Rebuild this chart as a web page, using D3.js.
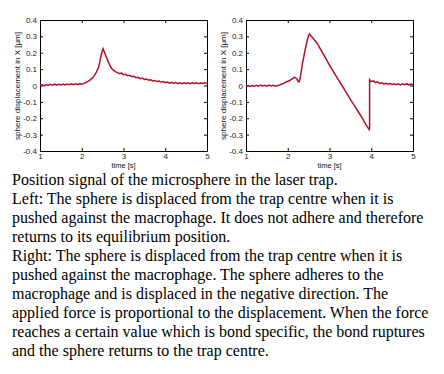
<!DOCTYPE html>
<html>
<head>
<meta charset="utf-8">
<script src="https://cdn.jsdelivr.net/npm/d3@7"></script>
<style>
  body { margin: 0; background: #fff; }
  .tick text { font-family: "Liberation Sans", Arial, sans-serif; }
</style>
</head>
<body>
<div id="chart"></div>
<script>
// ---- data ----
const yTicks = [0.4, 0.3, 0.2, 0.1, 0, -0.1, -0.2, -0.3, -0.4];
const xTicks = [1, 2, 3, 4, 5];

// left panel: sphere does not adhere
const leftTime = [1.0, 1.05, 1.1, 1.15, 1.2, 1.25, 1.3, 1.35, 1.4, 1.45, 1.5, 1.55, 1.6, 1.65, 1.7, 1.75, 1.8, 1.85, 1.9, 1.95,
  2.0, 2.05, 2.1, 2.15, 2.2, 2.25, 2.3, 2.35, 2.4, 2.43, 2.46, 2.49, 2.51, 2.54, 2.58, 2.62, 2.66, 2.7, 2.75, 2.8, 2.85,
  2.9, 2.95, 3.0, 3.05, 3.1, 3.15, 3.2, 3.25, 3.3, 3.35, 3.4, 3.45, 3.5, 3.55, 3.6, 3.65, 3.7, 3.75, 3.8, 3.85, 3.9, 3.95,
  4.0, 4.05, 4.1, 4.15, 4.2, 4.25, 4.3, 4.35, 4.4, 4.45, 4.5, 4.55, 4.6, 4.65, 4.7, 4.75, 4.8, 4.85, 4.9, 4.95, 5.0];
const leftDisp = [0.0, 0.005, -0.002, 0.006, 0.001, 0.007, 0.002, 0.008, 0.003, 0.008, 0.004, 0.009, 0.004, 0.009, 0.005, 0.01, 0.005, 0.01, 0.006, 0.011,
  0.009, 0.013, 0.018, 0.025, 0.034, 0.045, 0.06, 0.082, 0.11, 0.14, 0.18, 0.21, 0.225, 0.205, 0.18, 0.155, 0.13, 0.11, 0.095, 0.085, 0.08,
  0.072, 0.076, 0.066, 0.068, 0.06, 0.062, 0.054, 0.056, 0.048, 0.05, 0.042, 0.045, 0.037, 0.04, 0.032, 0.035, 0.028, 0.031, 0.024, 0.027, 0.021, 0.024,
  0.017, 0.021, 0.014, 0.019, 0.013, 0.018, 0.012, 0.017, 0.011, 0.017, 0.012, 0.016, 0.011, 0.017, 0.012, 0.016, 0.011, 0.017, 0.012, 0.016, 0.013];

// right panel: sphere adheres, bond ruptures near 3.95 s
const rightTime = [1.0, 1.05, 1.1, 1.15, 1.2, 1.25, 1.3, 1.35, 1.4, 1.45, 1.5, 1.55, 1.6, 1.65, 1.7, 1.75, 1.8, 1.85, 1.9, 1.95,
  2.0, 2.05, 2.1, 2.13, 2.16, 2.19, 2.22, 2.25, 2.27, 2.29, 2.32, 2.35, 2.38, 2.41, 2.44, 2.47, 2.5, 2.52, 2.55, 2.6, 2.65,
  2.7, 2.8, 2.9, 3.0, 3.1, 3.2, 3.3, 3.4, 3.5, 3.6, 3.7, 3.8, 3.85, 3.9, 3.93, 3.95, 3.96, 3.96, 3.98, 4.0, 4.05,
  4.1, 4.15, 4.2, 4.25, 4.3, 4.35, 4.4, 4.45, 4.5, 4.55, 4.6, 4.65, 4.7, 4.75, 4.8, 4.85, 4.9, 4.95, 5.0];
const rightDisp = [-0.005, 0.0, -0.006, -0.001, -0.005, 0.001, -0.004, 0.002, -0.003, 0.001, -0.004, 0.002, -0.003, 0.001, -0.004, 0.0, 0.002, 0.008, 0.013, 0.02,
  0.026, 0.03, 0.04, 0.045, 0.05, 0.047, 0.04, 0.025, 0.022, 0.035, 0.08, 0.13, 0.17, 0.21, 0.245, 0.28, 0.305, 0.315, 0.305, 0.29, 0.275,
  0.26, 0.215, 0.17, 0.125, 0.082, 0.04, 0.0, -0.042, -0.085, -0.125, -0.165, -0.205, -0.23, -0.25, -0.262, -0.27, -0.26, 0.035, 0.028, 0.025, 0.028,
  0.018, 0.022, 0.012, 0.016, 0.01, 0.014, 0.008, 0.012, 0.006, 0.011, 0.005, 0.01, 0.004, 0.01, 0.005, 0.011, 0.004, 0.009, 0.005];

const caption = [
  "Position signal of the microsphere in the laser trap.",
  "Left: The sphere is displaced from the trap centre when it is",
  "pushed against the macrophage. It does not adhere and therefore",
  "returns to its equilibrium position.",
  "Right: The sphere is displaced from the trap centre when it is",
  "pushed against the macrophage. The sphere adheres to the",
  "macrophage and is displaced in the negative direction. The",
  "applied force is proportional to the displacement. When the force",
  "reaches a certain value which is bond specific, the bond ruptures",
  "and the sphere returns to the trap centre."
];

// ---- layout ----
const svgWidth = 444, svgHeight = 374;
const lineColor = "#b0122c";
const tickFmt = d => d === 0 ? "0" : d3.format(".1f")(d).replace("\u2212", "-");

const svg = d3.select("#chart").append("svg")
  .attr("width", svgWidth)
  .attr("height", svgHeight);

function drawPanel(left, time, disp) {
  const x = d3.scaleLinear().domain([1, 5]).range([left, left + 167]);
  const y = d3.scaleLinear().domain([-0.4, 0.4]).range([151, 20]);
  const g = svg.append("g");

  // axes with inward ticks (box style)
  const axB = g.append("g").attr("transform", "translate(0,151)")
    .call(d3.axisBottom(x).tickValues(xTicks).tickFormat(d3.format("d")).tickSizeInner(-3).tickSizeOuter(0).tickPadding(2));
  const axT = g.append("g").attr("transform", "translate(0,20)")
    .call(d3.axisTop(x).tickValues(xTicks).tickSizeInner(-3).tickSizeOuter(0).tickFormat(""));
  const axL = g.append("g").attr("transform", `translate(${left},0)`)
    .call(d3.axisLeft(y).tickValues(yTicks).tickFormat(tickFmt).tickSizeInner(-3).tickSizeOuter(0).tickPadding(3));
  const axR = g.append("g").attr("transform", `translate(${left + 167},0)`)
    .call(d3.axisRight(y).tickValues(yTicks).tickSizeInner(-3).tickSizeOuter(0).tickFormat(""));

  [axB, axT, axL, axR].forEach(a => {
    a.selectAll("line, path").attr("stroke", "#000").attr("stroke-width", 1);
    a.selectAll("text").attr("font-size", 8).attr("fill", "#222");
  });

  // signal
  const line = d3.line().x((d, i) => x(time[i])).y(d => y(d));
  g.append("path")
    .datum(disp)
    .attr("d", line)
    .attr("fill", "none")
    .attr("stroke", lineColor)
    .attr("stroke-width", 1.5);

  // labels
  g.append("text")
    .attr("x", left + 83.5).attr("y", 168)
    .attr("text-anchor", "middle")
    .attr("font-family", "Liberation Sans, Arial, sans-serif")
    .attr("font-size", 7.5).attr("fill", "#111")
    .text("time [s]");
  g.append("text")
    .attr("transform", `translate(${left - 20},86) rotate(-90)`)
    .attr("text-anchor", "middle")
    .attr("font-family", "Liberation Sans, Arial, sans-serif")
    .attr("font-size", 8).attr("fill", "#111")
    .attr("textLength", 108).attr("lengthAdjust", "spacingAndGlyphs")
    .text("sphere displacement in X [µm]");
}

drawPanel(40, leftTime, leftDisp);
drawPanel(246, rightTime, rightDisp);

// caption
svg.append("g").selectAll("text")
  .data(caption)
  .enter()
  .append("text")
  .attr("x", 12)
  .attr("y", (d, i) => 185 + i * 19)
  .attr("font-family", "Liberation Serif, Times New Roman, serif")
  .attr("font-size", 16)
  .attr("fill", "#000")
  .text(d => d);
</script>
</body>
</html>
